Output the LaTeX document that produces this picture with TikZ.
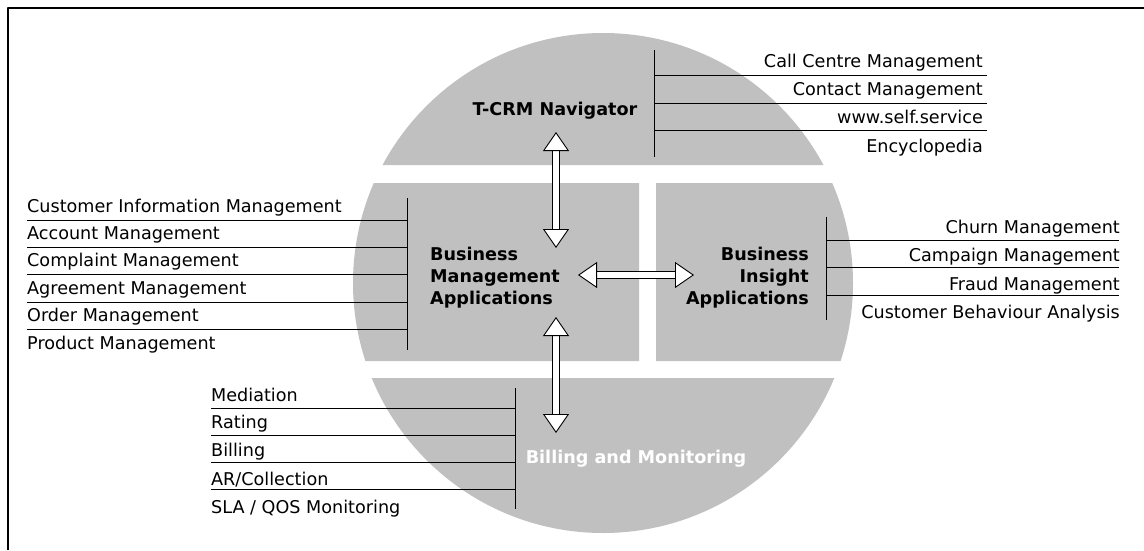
\documentclass[tikz,border=0pt]{standalone}
\usepackage{fontspec}
\setmainfont{DejaVu Sans}
\usetikzlibrary{arrows.meta}
\definecolor{silver}{RGB}{192,192,192}
\begin{document}
\begin{tikzpicture}[x=1pt,y=-1pt,line join=round,
    item/.style={inner sep=0pt,font=\fontsize{17.6}{21}\selectfont},
    head/.style={inner sep=0pt,font=\fontsize{17.6}{21.7}\selectfont\bfseries},
    hollow/.style={draw=black,line width=0.9pt,double=white,double distance=5.5pt,
        {Triangle[width=26pt,length=19pt,fill=white,line width=0.9pt]}-{Triangle[width=26pt,length=19pt,fill=white,line width=0.9pt]}}]
    \useasboundingbox (0,0) rectangle (1144,550);
    \begin{scope}
        \clip (603,283) circle(250pt);
        \fill[silver]
        (0,0) rectangle (1144,165)
        (0,183) rectangle (639,361)
        (656,183) rectangle (1144,361)
        (0,378) rectangle (1144,550)
        ;
    \end{scope}
    \draw[line width=2pt] (8,550)--(8,8)--(1144,8);
    \draw[line width=0.8pt]
    (654,50)--(654,157)
    (654,75)--(987,75) (654,103)--(987,103) (654,130)--(987,130)
    (407,198)--(407,350)
    (27,220)--(407,220) (27,247)--(407,247) (27,274)--(407,274)
    (27,302)--(407,302) (27,329)--(407,329)
    (826,217)--(826,320)
    (826,240)--(1119,240) (826,267)--(1119,267) (826,295)--(1119,295)
    (515,388)--(515,509)
    (211,408)--(515,408) (211,435)--(515,435) (211,462)--(515,462) (211,489)--(515,489)
    ;
    \node[head,anchor=base] (nav) at (555,115.5) {T-CRM Navigator};
    \node[head,anchor=west,align=left] (bma) at (430,277.6) {Business\\Management\\Applications};
    \node[head,anchor=east,align=right] (bia) at (809,277.6) {Business\\Insight\\Applications};
    \node[head,anchor=base,text=white] (bam) at (636,463.5) {Billing and Monitoring};
    \node[item,anchor=base east] (callc) at (983,67) {Call Centre Management};
    \node[item,anchor=base east] (contact) at (983,95) {Contact Management};
    \node[item,anchor=base east] (self) at (983,123) {www.self.service};
    \node[item,anchor=base east] (encyc) at (983,152) {Encyclopedia};
    \node[item,anchor=base west] (cim) at (27,212) {Customer Information Management};
    \node[item,anchor=base west] (acct) at (27,239) {Account Management};
    \node[item,anchor=base west] (compl) at (27,266) {Complaint Management};
    \node[item,anchor=base west] (agree) at (27,294) {Agreement Management};
    \node[item,anchor=base west] (order) at (27,321) {Order Management};
    \node[item,anchor=base west] (prod) at (27,349) {Product Management};
    \node[item,anchor=base east] (churn) at (1120,233) {Churn Management};
    \node[item,anchor=base east] (camp) at (1120,261) {Campaign Management};
    \node[item,anchor=base east] (fraud) at (1120,290) {Fraud Management};
    \node[item,anchor=base east] (cba) at (1120,318) {Customer Behaviour Analysis};
    \node[item,anchor=base west] (medi) at (211,401) {Mediation};
    \node[item,anchor=base west] (rate) at (211,428) {Rating};
    \node[item,anchor=base west] (bill) at (211,456) {Billing};
    \node[item,anchor=base west] (arc) at (211,485) {AR/Collection};
    \node[item,anchor=base west] (sla) at (211,513) {SLA / QOS Monitoring};
    \coordinate (navtip) at (556,132);
    \coordinate (bmatop) at (556,248);
    \coordinate (bmabot) at (556,317);
    \coordinate (bamtip) at (556,433);
    \coordinate (bmaright) at (578,275);
    \coordinate (biatip) at (694,275);
    \draw[hollow] (navtip)--(bmatop);
    \draw[hollow] (bmabot)--(bamtip);
    \draw[hollow] (bmaright)--(biatip);
\end{tikzpicture}
\end{document}
